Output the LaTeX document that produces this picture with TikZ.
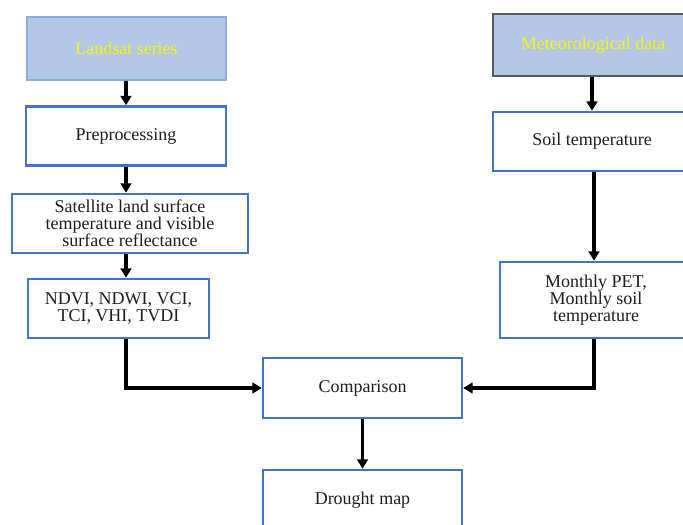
\documentclass[tikz,border=0pt]{standalone}
\usepackage{fontspec}
\setmainfont{Liberation Serif}
\usetikzlibrary{arrows.meta}
\definecolor{boxblue}{HTML}{4472C4}
\definecolor{fillblue}{HTML}{B4C7E7}
\definecolor{lightedge}{HTML}{8FAADC}
\definecolor{txt}{HTML}{1E1E1E}
\definecolor{ylw}{HTML}{F5F510}
\tikzset{
  box/.style={draw=boxblue, line width=1.9pt, fill=white, rectangle, align=center,
    text=txt, font=\fontsize{13.5}{12.8}\selectfont, inner sep=2pt},
  srcbox/.style={box, fill=fillblue, text=ylw},
  arr/.style={line width=2.3pt, -{Triangle[length=7pt,width=8pt]}}
}
\begin{document}
\begin{tikzpicture}[x=0.75pt,y=-0.75pt]
\useasboundingbox (0,0) rectangle (683,525);
\clip (0,0) rectangle (683,525);
\fill[white] (0,0) rectangle (683,525);
% left column
\node[srcbox, draw=lightedge, line width=1pt, minimum width=199*0.75pt, minimum height=63*0.75pt] (L) at (126.5,48.5) {Landsat series};
\node[box, minimum width=200*0.75pt, minimum height=59*0.75pt] (P) at (126,136) {Preprocessing};
\node[box, minimum width=236*0.75pt, minimum height=59*0.75pt] (S) at (130,223.5) {Satellite land surface\\temperature and visible\\surface reflectance};
\node[box, minimum width=181*0.75pt, minimum height=59*0.75pt] (N) at (118.5,308.5) {NDVI, NDWI, VCI,\\TCI, VHI, TVDI};
% right column
\node[srcbox, draw=black!65, line width=1.2pt, minimum width=200*0.75pt, minimum height=62*0.75pt] (M) at (593,45) {Meteorological data};
\node[box, minimum width=198*0.75pt, minimum height=59*0.75pt] (T) at (592,141.5) {Soil temperature};
\node[box, minimum width=192*0.75pt, minimum height=76*0.75pt] (Mo) at (596,300) {Monthly PET,\\Monthly soil\\temperature};
% bottom
\node[box, minimum width=199*0.75pt, minimum height=60*0.75pt] (C) at (362.5,388) {Comparison};
\node[box, minimum width=199*0.75pt, minimum height=60*0.75pt] (D) at (362.5,500) {Drought map};
% connectors
\coordinate (lx) at (126,0);
\coordinate (rx) at (592,0);
\coordinate (rx2) at (594,0);
\draw[arr] (L.south -| lx) -- (P.north -| lx);
\draw[arr] (P.south -| lx) -- (S.north -| lx);
\draw[arr] (S.south -| lx) -- (N.north -| lx);
\draw[arr] (N.south -| lx) |- (C.west);
\draw[arr] (M.south -| rx) -- (T.north -| rx);
\draw[arr] (T.south -| rx2) -- (Mo.north -| rx2);
\draw[arr] (Mo.south -| rx2) |- (C.east);
\draw[arr] (C.south) -- (D.north);
\end{tikzpicture}
\end{document}
